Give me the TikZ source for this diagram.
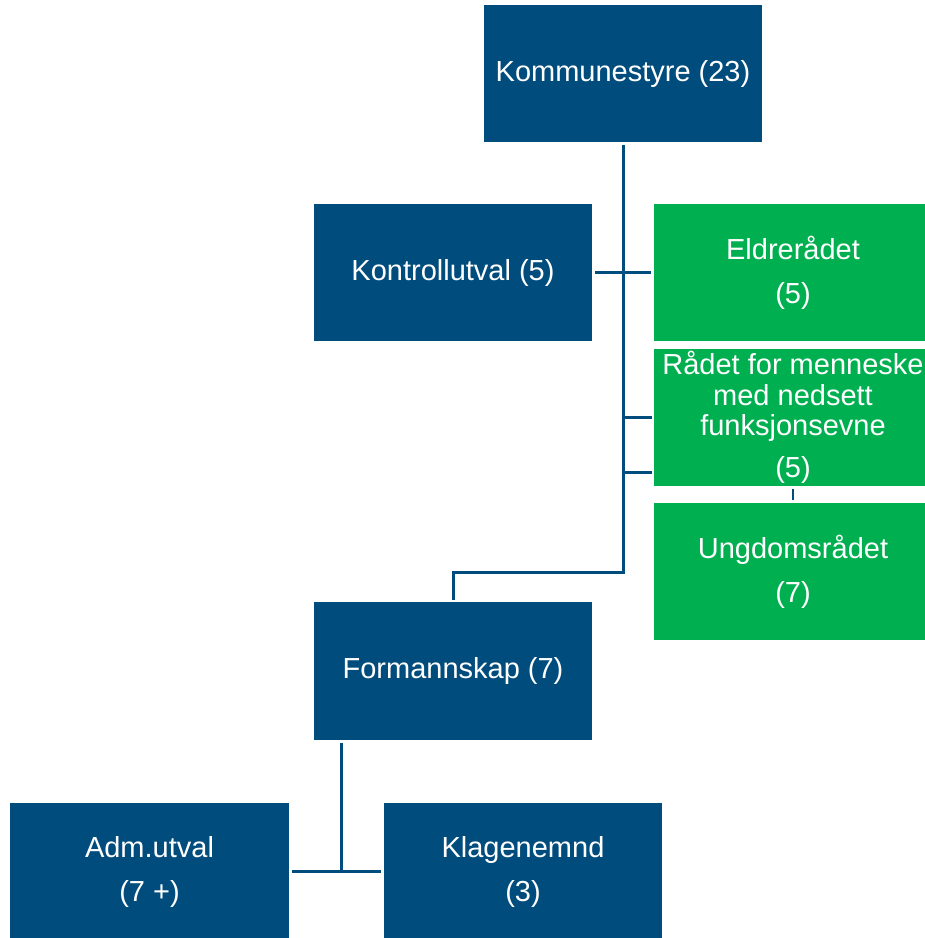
\documentclass[tikz,border=0pt]{standalone}
\usepackage{fontspec}
\setmainfont{Liberation Sans}
\usetikzlibrary{positioning}
\definecolor{orgblue}{RGB}{0,76,124}
\definecolor{orggreen}{RGB}{0,176,80}
\tikzset{
  unit/.style={fill=orgblue, text=white, minimum width=278pt, minimum height=137pt,
    inner sep=0pt, align=center, font=\fontsize{29}{44}\selectfont},
  council/.style={unit, fill=orggreen},
  link/.style={draw=orgblue, line width=3pt}
}
\begin{document}
\begin{tikzpicture}[x=1pt,y=-1pt]
        \useasboundingbox (0,0) rectangle (925,938);
        \fill[white] (0,0) rectangle (925,938);
        % main bodies
        \node[unit] (komm) at (623,73.5) {Kommunestyre (23)};
        \node[unit] (kontroll) at (453,272.5) {Kontrollutval (5)};
        \node[unit, minimum height=138pt] (forma) at (453,671) {Formannskap (7)};
        \node[unit, minimum width=279pt] (adm) at (149.5,871.5) {Adm.utval\\(7 +)};
        \node[unit] (klage) at (523,871.5) {Klagenemnd\\(3)};
        % councils
        \node[council] (eldre) at (793,272.5) {Eldrerådet\\(5)};
        \node[council, font=\fontsize{29}{30.5}\selectfont] (raadet) at (793,417.5)
          {Rådet for menneske\\med nedsett\\funksjonsevne\\[11pt](5)};
        \node[council] (ungdom) at (793,571.5) {Ungdomsrådet\\(7)};
        % connectors
        \coordinate (fjoint) at (453,572);
        \coordinate (r2) at ([yshift=14pt]raadet.south west);
        \coordinate (fsplit) at (341,871);
        \draw[link] ([yshift=-3pt]komm.south) |- (fjoint) -- ([yshift=2pt]forma.north);
        \draw[link, shorten <=3pt, shorten >=3pt] (kontroll.east) -- (eldre.west);
        \draw[link, shorten >=2pt] (komm.south |- raadet.west) -- (raadet.west);
        \draw[link, shorten >=2pt] (komm.south |- r2) -- (r2);
        \draw[link, line width=2pt, shorten <=3pt, shorten >=3pt] (raadet.south) -- (ungdom.north);
        \draw[link] ([yshift=-3pt]fsplit |- forma.south) -- (fsplit);
        \draw[link, shorten <=3pt, shorten >=3pt] (adm.east) -- (klage.west);
      \end{tikzpicture}
\end{document}
